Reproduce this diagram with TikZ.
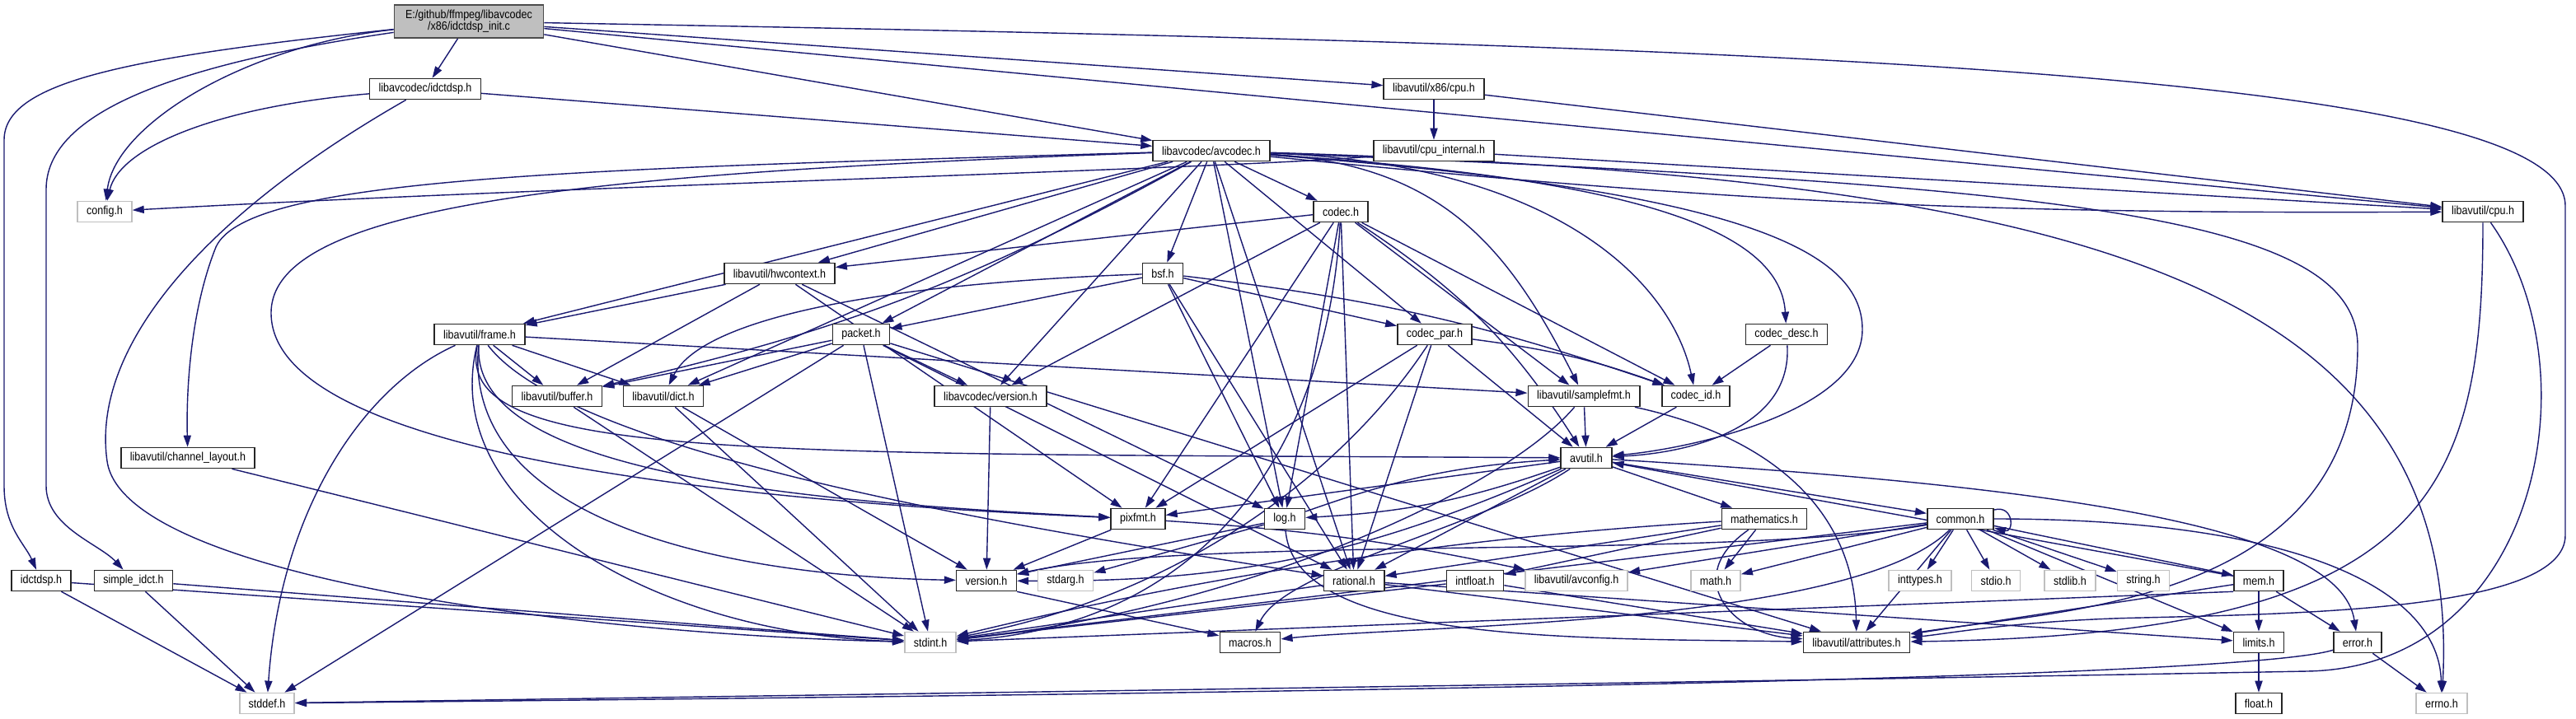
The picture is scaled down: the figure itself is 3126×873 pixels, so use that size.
\documentclass[tikz,border=0pt]{standalone}
\usepackage{fontspec}
\newfontfamily\dotfont{Liberation Sans}[FakeStretch=0.87]
\usetikzlibrary{arrows.meta}
\pgfdeclarelayer{edges}
\pgfsetlayers{edges,main}
\definecolor{edgeblue}{HTML}{191970}
\definecolor{sysgray}{HTML}{BFBFBF}
\definecolor{rootfill}{HTML}{BFBFBF}
\tikzset{
    % --- Header of the source tree (black frame) ---
    hdr/.style = {
        rectangle, draw=black!85, line width=0.45pt, fill=white,
        minimum height=0.25cm, inner xsep=3.1pt, inner ysep=0.4pt,
        font=\dotfont\fontsize{4.1}{4.1}\selectfont
    },
    % --- System header that was not found (grey frame) ---
    sys hdr/.style = {
        hdr, draw=sysgray
    },
    % --- The file the graph is drawn for ---
    root hdr/.style = {
        hdr, fill=rootfill, draw=black!70, align=center,
        minimum width=1.81cm, minimum height=0.40cm
    },
    % --- Include arrow ---
    incl/.style = {
        draw=edgeblue, line width=0.4pt,
        -{Triangle[length=4pt, width=2.6pt]}
    }
}

\begin{document}
\begin{tikzpicture}[x=0.01cm, y=-0.01cm, every edge/.style={incl}]

\begin{pgfonlayer}{edges}
\fill[white] (0,0) rectangle (3126,873);
\end{pgfonlayer}
\useasboundingbox (0,0) rectangle (3126,873);

% ---------------------------------------------------------
% Rows 1-4: source file, idctdsp, avcodec, cpu
% ---------------------------------------------------------
\node[root hdr] (init) at (569,26) {E:/github/ffmpeg/libavcodec\\/x86/idctdsp\_init.c};
\node[hdr] (idctdsp) at (516,108) {libavcodec/idctdsp.h};
\node[hdr] (x86cpu) at (1740,108) {libavutil/x86/cpu.h};
\node[hdr] (avcodec) at (1470,183) {libavcodec/avcodec.h};
\node[hdr] (cpuinternal) at (1740,183) {libavutil/cpu\_internal.h};
\node[sys hdr] (config) at (127,257) {config.h};
\node[hdr] (codec) at (1627,257) {codec.h};
\node[hdr] (cpu) at (3013,257) {libavutil/cpu.h};

% ---------------------------------------------------------
% Rows 5-8: libavcodec / libavutil headers
% ---------------------------------------------------------
\node[hdr] (hwcontext) at (946,332) {libavutil/hwcontext.h};
\node[hdr] (bsf) at (1411,332) {bsf.h};
\node[hdr] (frame) at (582,406) {libavutil/frame.h};
\node[hdr] (packet) at (1045,406) {packet.h};
\node[hdr] (codecpar) at (1741,406) {codec\_par.h};
\node[hdr] (codecdesc) at (2168,406) {codec\_desc.h};
\node[hdr] (buffer) at (676,481) {libavutil/buffer.h};
\node[hdr] (dict) at (805,481) {libavutil/dict.h};
\node[hdr] (lavcversion) at (1202,481) {libavcodec/version.h};
\node[hdr] (samplefmt) at (1922,481) {libavutil/samplefmt.h};
\node[hdr] (codecid) at (2058,481) {codec\_id.h};
\node[hdr] (chlayout) at (228,556) {libavutil/channel\_layout.h};
\node[hdr] (avutil) at (1925,556) {avutil.h};

% ---------------------------------------------------------
% Rows 9-12: low level headers
% ---------------------------------------------------------
\node[hdr] (pixfmt) at (1381,630) {pixfmt.h};
\node[hdr] (log) at (1559,630) {log.h};
\node[hdr] (mathematics) at (2141,630) {mathematics.h};
\node[hdr] (common) at (2379,630) {common.h};

\node[hdr] (x86idct) at (50,705) {idctdsp.h};
\node[hdr] (simpleidct) at (162,705) {simple\_idct.h};
\node[hdr] (version) at (1197,705) {version.h};
\node[sys hdr] (stdarg) at (1293,705) {stdarg.h};
\node[hdr] (rational) at (1643,705) {rational.h};
\node[hdr] (intfloat) at (1790,705) {intfloat.h};
\node[sys hdr] (avconfig) at (1913,705) {libavutil/avconfig.h};
\node[sys hdr] (mathh) at (2082,705) {math.h};
\node[sys hdr] (inttypes) at (2330,705) {inttypes.h};
\node[sys hdr] (stdio) at (2422,705) {stdio.h};
\node[sys hdr] (stdlib) at (2512,705) {stdlib.h};
\node[sys hdr] (string) at (2601,705) {string.h};
\node[hdr] (mem) at (2741,705) {mem.h};

\node[sys hdr] (stdint) at (1129,780) {stdint.h};
\node[hdr] (macros) at (1517,780) {macros.h};
\node[hdr] (attributes) at (2253,780) {libavutil/attributes.h};
\node[hdr] (limits) at (2741,780) {limits.h};
\node[hdr] (error) at (2861,780) {error.h};

\node[sys hdr] (stddef) at (324,854) {stddef.h};
\node[hdr] (float) at (2741,854) {float.h};
\node[sys hdr] (errno) at (2963,854) {errno.h};

% ---------------------------------------------------------
% Include edges
% ---------------------------------------------------------
\begin{pgfonlayer}{edges}
% idctdsp_init.c
\path (init) edge (idctdsp) edge (avcodec) edge (x86cpu) edge (cpu);
\draw[incl] (init) .. controls (300,55) and (140,150) .. (config);
\draw[incl] (init) .. controls (150,70) and (5,100) .. (5,170) -- (5,590)
    .. controls (5,640) and (30,660) .. (x86idct);
\draw[incl] (init) .. controls (200,80) and (56,140) .. (56,230) -- (56,590)
    .. controls (56,640) and (120,660) .. (simpleidct);
\draw[incl] (init) .. controls (2200,55) and (3113,90) .. (3113,250) -- (3113,650)
    .. controls (3113,740) and (2800,745) .. (2600,750)
    .. controls (2450,753) and (2360,770) .. (attributes);

% libavcodec/idctdsp.h
\path (idctdsp) edge (avcodec);
\draw[incl] (idctdsp) .. controls (260,130) and (145,180) .. (config);
\draw[incl] (idctdsp) .. controls (250,260) and (110,420) .. (130,560)
    .. controls (150,700) and (700,770) .. (stdint);

% cpu headers
\path (x86cpu) edge (cpuinternal) edge (cpu);
\path (cpuinternal) edge (cpu);
\draw[incl] (cpuinternal) .. controls (1500,205) and (700,225) .. (config);
\draw[incl] (cpu) .. controls (3013,600) and (2950,770) .. (attributes);
\draw[incl] (cpu) .. controls (3150,450) and (3080,810) .. (2800,815)
    .. controls (2000,830) and (900,845) .. (stddef);

% libavcodec/avcodec.h
\path (avcodec) edge[bend left=8] (buffer) edge[bend right=3] (cpu) edge (dict)
    edge (frame) edge (hwcontext) edge (log) edge (rational) edge (bsf)
    edge (codec) edge (codecpar) edge (packet) edge (lavcversion);
\draw[incl] (avcodec) .. controls (1750,200) and (1830,300) .. (samplefmt);
\draw[incl] (avcodec) .. controls (1900,200) and (2030,350) .. (codecid);
\draw[incl] (avcodec) .. controls (1950,215) and (2160,270) .. (codecdesc);
\draw[incl] (avcodec) .. controls (2100,230) and (2260,300) .. (2260,400)
    .. controls (2260,500) and (2050,545) .. (avutil);
\draw[incl] (avcodec) .. controls (2500,215) and (2990,330) .. (errno);
\draw[incl] (avcodec) .. controls (2500,225) and (2861,260) .. (2861,420)
    .. controls (2861,735) and (2500,740) .. (attributes);
\draw[incl] (avcodec) .. controls (700,205) and (300,215) .. (262,300)
    .. controls (230,380) and (226,480) .. (chlayout);
\draw[incl] (avcodec) .. controls (700,210) and (329,250) .. (329,380)
    .. controls (329,520) and (700,600) .. (pixfmt);

% codec.h
\path (codec) edge (hwcontext) edge (lavcversion) edge (pixfmt) edge (log)
    edge (samplefmt) edge (codecid) edge[bend left=12] (avutil) edge (rational);
\draw[incl] (codec) .. controls (1610,560) and (1450,760) .. (stdint);

% libavutil/hwcontext.h
\path (hwcontext) edge (frame) edge (buffer) edge (pixfmt) edge (log);

% libavutil/frame.h
\path (frame) edge (buffer) edge (dict) edge (samplefmt);
\draw[incl] (frame) .. controls (550,560) and (900,550) .. (avutil);
\draw[incl] (frame) .. controls (700,560) and (1300,650) .. (rational);
\draw[incl] (frame) .. controls (570,580) and (1000,610) .. (pixfmt);
\draw[incl] (frame) .. controls (560,640) and (900,700) .. (version);
\draw[incl] (frame) .. controls (530,620) and (800,770) .. (stdint);
\draw[incl] (frame) .. controls (440,470) and (340,620) .. (stddef);

% packet.h and bsf.h
\path (packet) edge (dict) edge (buffer) edge (lavcversion) edge (stddef)
    edge (stdint) edge (attributes) edge (rational);
\path (bsf) edge (packet) edge (codecpar) edge[bend left=6] (codecid)
    edge (log) edge (rational);
\draw[incl] (bsf) .. controls (1050,345) and (850,390) .. (dict);

% codec_par.h, codec_desc.h, codec_id.h
\path (codecpar) edge[bend left=6] (codecid) edge (avutil) edge (pixfmt) edge (rational);
\draw[incl] (codecpar) .. controls (1640,560) and (1450,720) .. (stdint);
\path (codecdesc) edge (codecid);
\draw[incl] (codecdesc) .. controls (2175,520) and (2050,550) .. (avutil);
\path (codecid) edge (avutil);

% libavutil/samplefmt.h
\path (samplefmt) edge (avutil);
\draw[incl] (samplefmt) .. controls (2150,530) and (2250,620) .. (attributes);
\draw[incl] (samplefmt) .. controls (1820,600) and (1500,740) .. (stdint);

% small headers down to stdint.h / stddef.h
\path (chlayout) edge (stdint);
\path (buffer) edge (stdint);
\path (dict) edge (stdint) edge (version);
\path (lavcversion) edge (version);
\path (x86idct) edge (stddef) edge (stdint);
\path (simpleidct) edge (stddef) edge (stdint);

% avutil.h
\path (avutil) edge (pixfmt) edge[bend left=8] (log) edge (mathematics)
    edge (common) edge (rational) edge[bend left=12] (version);
\draw[incl] (avutil) .. controls (1800,640) and (1560,690) .. (macros);
\draw[incl] (avutil) .. controls (2500,590) and (2840,640) .. (error);

% log.h and pixfmt.h
\path (log) edge[bend left=8] (avutil) edge (version) edge (stdarg);
\draw[incl] (log) .. controls (1570,780) and (1900,775) .. (attributes);
\path (pixfmt) edge (version) edge[bend left=4] (avconfig);

% mathematics.h, rational.h, intfloat.h
\path (mathematics) edge (rational) edge (intfloat) edge (mathh);
\draw[incl] (mathematics) .. controls (2040,700) and (2100,770) .. (attributes);
\draw[incl] (mathematics) .. controls (1800,650) and (1500,690) .. (stdint);
\path (rational) edge (attributes) edge (stdint) edge (limits);
\path (intfloat) edge (attributes) edge (stdint);

% common.h
\path (common) edge (inttypes) edge (stdio) edge (stdlib) edge (string)
    edge (mem) edge (limits) edge (mathh) edge (avconfig) edge (attributes)
    edge (stdint) edge[loop right, min distance=2.5mm] (common);
\draw[incl] (common) .. controls (2800,630) and (2960,720) .. (errno);
\draw[incl] (common) .. controls (2250,760) and (1700,760) .. (macros);
\draw[incl] (common) .. controls (2100,680) and (1450,650) .. (version);

% mem.h, limits.h, error.h, version.h
\path (mem) edge (limits) edge (error) edge (attributes) edge (avutil);
\path (mem.south west) edge (stdint);
\path (limits) edge (float);
\path (error) edge (errno);
\draw[incl] (error) .. controls (2700,830) and (1200,845) .. (stddef);
\path (version.south east) edge (macros);
\end{pgfonlayer}

\end{tikzpicture}
\end{document}
